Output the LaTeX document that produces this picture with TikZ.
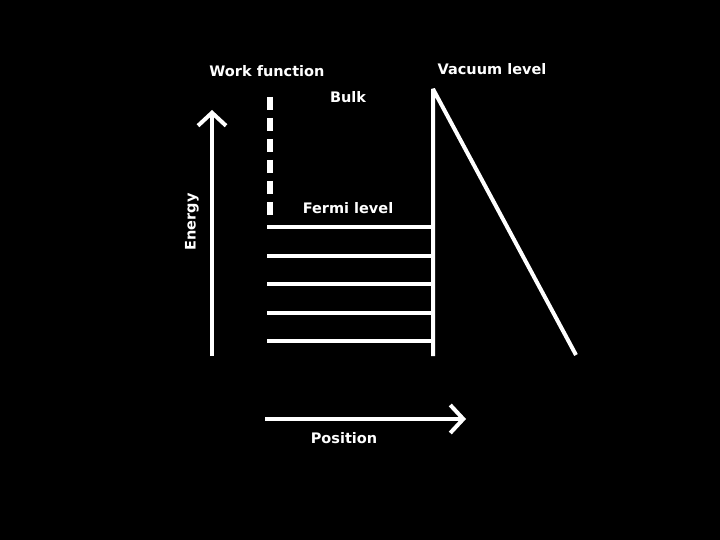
\documentclass[tikz,border=0pt]{standalone}
\usepackage{fontspec}
\setmainfont{DejaVu Sans}
\usetikzlibrary{arrows.meta}
\begin{document}
\begin{tikzpicture}[x=1pt,y=-1pt,
  wline/.style={draw=white,line width=4pt},
  axisarrow/.style={wline,-{Straight Barb[length=13pt,width=28pt,line width=4pt]}},
  lbl/.style={text=white,font=\bfseries\fontsize{14.5}{16}\selectfont,inner sep=0pt}]
\fill[black] (0,0) rectangle (720,540);
\useasboundingbox (0,0) rectangle (720,540);
% energy axis
\coordinate (e0) at (212,356);
\coordinate (e1) at (212,110);
\draw[axisarrow] (e0) -- (e1);
\node[lbl,rotate=90] (energy) at (192,222) {Energy};
% position axis
\coordinate (p0) at (265,419);
\coordinate (p1) at (466,419);
\draw[axisarrow] (p0) -- (p1);
\node[lbl] (position) at (344,438) {Position};
% work function dashed
\coordinate (w0) at (270,97);
\coordinate (w1) at (270,216);
\draw[draw=white,line width=6pt,dash pattern=on 13pt off 8pt] (w0) -- (w1);
% levels
\foreach \y in {227,256,284,313,341}{
  \draw[wline] (267,\y) -- (432,\y);
}
% surface
\coordinate (s0) at (433,356);
\coordinate (s1) at (433,89);
\coordinate (d1) at (576,355);
\draw[wline,line join=bevel] (s0) -- (s1) -- (d1);
% labels
\node[lbl] (wf) at (267,71) {Work function};
\node[lbl] (bulk) at (348,97) {Bulk};
\node[lbl] (fermi) at (348,208) {Fermi level};
\node[lbl] (vac) at (492,69) {Vacuum level};
\end{tikzpicture}
\end{document}
